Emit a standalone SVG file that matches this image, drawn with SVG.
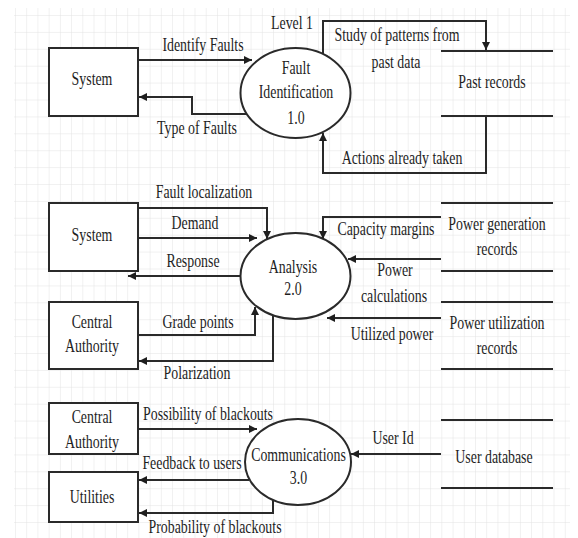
<svg xmlns="http://www.w3.org/2000/svg" width="578" height="538" viewBox="0 0 578 538">
  <defs>
    <pattern id="grid" x="15" y="15" width="11.22" height="16.9" patternUnits="userSpaceOnUse">
      <path d="M0,0 V16.9 M0,0 H11.22" fill="none" stroke="#e3e3e3" stroke-width="1"/>
    </pattern>
    <marker id="arr" viewBox="0 0 10 10" refX="10" refY="5" markerWidth="10" markerHeight="8" markerUnits="userSpaceOnUse" orient="auto">
      <path d="M0,0 L10,5 L0,10 z" fill="#1e1e1e"/>
    </marker>
    <style>
      .t { font-family: "Liberation Serif", "Times New Roman", serif; font-size: 18px; fill: #1e1e1e; text-anchor: middle; }
      .box { fill: #ffffff; stroke: #2a2a2a; stroke-width: 2; }
      .proc { fill: #ffffff; stroke: #2a2a2a; stroke-width: 2; }
      .store { stroke: #2a2a2a; stroke-width: 2.2; fill: none; }
      .flow { fill: none; stroke: #2a2a2a; stroke-width: 2; marker-end: url(#arr); }
    </style>
  </defs>

  <!-- background with drafting grid -->
  <rect x="0" y="0" width="578" height="538" fill="#ffffff"/>
  <rect x="14" y="8" width="556" height="530" fill="url(#grid)"/>

  <!-- title -->
  <text class="t" transform="translate(292,29) scale(.77 1)">Level 1</text>

  <!-- ===== Level 1: fault identification ===== -->
  <g id="system-1">
    <rect class="box" x="49" y="48" width="89" height="68"/>
    <text class="t" transform="translate(92,85) scale(.77 1)">System</text>
  </g>

  <g id="fault-identification">
    <ellipse class="proc" cx="295.5" cy="93" rx="55" ry="45"/>
    <text class="t" transform="translate(296,74) scale(.77 1)">Fault</text>
    <text class="t" transform="translate(296,98) scale(.77 1)">Identification</text>
    <text class="t" transform="translate(296,124) scale(.77 1)">1.0</text>
  </g>

  <g id="past-records">
    <line class="store" x1="441" y1="51" x2="553" y2="51"/>
    <line class="store" x1="441" y1="116" x2="553" y2="116"/>
    <text class="t" transform="translate(492,88) scale(.77 1)">Past records</text>
  </g>

  <!-- ===== Analysis ===== -->
  <g id="system-2">
    <rect class="box" x="49" y="203" width="89" height="68"/>
    <text class="t" transform="translate(92,241) scale(.77 1)">System</text>
  </g>

  <g id="central-authority-1">
    <rect class="box" x="49" y="302" width="89" height="67"/>
    <text class="t" transform="translate(92,328) scale(.77 1)">Central</text>
    <text class="t" transform="translate(92,352) scale(.77 1)">Authority</text>
  </g>

  <g id="analysis">
    <ellipse class="proc" cx="295.5" cy="276" rx="55" ry="43"/>
    <text class="t" transform="translate(293,273) scale(.77 1)">Analysis</text>
    <text class="t" transform="translate(293,295) scale(.77 1)">2.0</text>
  </g>

  <g id="power-generation-records">
    <line class="store" x1="441" y1="203" x2="553" y2="203"/>
    <line class="store" x1="441" y1="271" x2="553" y2="271"/>
    <text class="t" transform="translate(497,230) scale(.77 1)">Power generation</text>
    <text class="t" transform="translate(497,255) scale(.77 1)">records</text>
  </g>

  <g id="power-utilization-records">
    <line class="store" x1="441" y1="302" x2="553" y2="302"/>
    <line class="store" x1="441" y1="369" x2="553" y2="369"/>
    <text class="t" transform="translate(497,329) scale(.77 1)">Power utilization</text>
    <text class="t" transform="translate(497,354) scale(.77 1)">records</text>
  </g>

  <!-- ===== Communications ===== -->
  <g id="central-authority-2">
    <rect class="box" x="49" y="403" width="89" height="51"/>
    <text class="t" transform="translate(92,423) scale(.77 1)">Central</text>
    <text class="t" transform="translate(92,448) scale(.77 1)">Authority</text>
  </g>

  <g id="utilities">
    <rect class="box" x="49" y="472" width="89" height="50"/>
    <text class="t" transform="translate(92,503) scale(.77 1)">Utilities</text>
  </g>

  <g id="communications">
    <ellipse class="proc" cx="298" cy="462" rx="53" ry="43"/>
    <text class="t" transform="translate(298.5,461) scale(.77 1)">Communications</text>
    <text class="t" transform="translate(298.5,484) scale(.77 1)">3.0</text>
  </g>

  <g id="user-database">
    <line class="store" x1="441" y1="420" x2="553" y2="420"/>
    <line class="store" x1="441" y1="488" x2="553" y2="488"/>
    <text class="t" transform="translate(494,463) scale(.77 1)">User database</text>
  </g>

  <!-- ===== data flows ===== -->
  <g id="connectors">
    <!-- fault identification -->
    <path class="flow" d="M138,60 H252"/>
    <text class="t" transform="translate(203,51) scale(.77 1)">Identify Faults</text>

    <path class="flow" d="M247,114 H192 V97 H139"/>
    <text class="t" transform="translate(197,134) scale(.77 1)">Type of Faults</text>

    <path class="flow" d="M323,54 V21 H486 V50"/>
    <text class="t" transform="translate(397,41) scale(.77 1)">Study of patterns from</text>
    <text class="t" transform="translate(396,68) scale(.77 1)">past data</text>

    <path class="flow" d="M486,116 V173 H323 V133"/>
    <text class="t" transform="translate(402,164) scale(.77 1)">Actions already taken</text>

    <!-- analysis -->
    <path class="flow" d="M138,208 H267 V239"/>
    <text class="t" transform="translate(204,198) scale(.77 1)">Fault localization</text>

    <path class="flow" d="M138,238 H257"/>
    <text class="t" transform="translate(195,229) scale(.77 1)">Demand</text>

    <path class="flow" d="M240,276 H128"/>
    <text class="t" transform="translate(193,267) scale(.77 1)">Response</text>

    <path class="flow" d="M138,335 H255 V307"/>
    <text class="t" transform="translate(198,328) scale(.77 1)">Grade points</text>

    <path class="flow" d="M273,315 V361 H139"/>
    <text class="t" transform="translate(197,379) scale(.77 1)">Polarization</text>

    <path class="flow" d="M441,217 H323 V239"/>
    <text class="t" transform="translate(386,235) scale(.77 1)">Capacity margins</text>

    <path class="flow" d="M441,259 H348"/>
    <text class="t" transform="translate(395,276) scale(.77 1)">Power</text>
    <text class="t" transform="translate(394,302) scale(.77 1)">calculations</text>

    <path class="flow" d="M441,318 H327"/>
    <text class="t" transform="translate(392,340) scale(.77 1)">Utilized power</text>

    <!-- communications -->
    <path class="flow" d="M138,429 H257"/>
    <text class="t" transform="translate(208,420) scale(.77 1)">Possibility of blackouts</text>

    <path class="flow" d="M249,480 H139"/>
    <text class="t" transform="translate(192,469) scale(.77 1)">Feedback to users</text>

    <path class="flow" d="M273,500 V513 H139"/>
    <text class="t" transform="translate(215,533) scale(.77 1)">Probability of blackouts</text>

    <path class="flow" d="M441,454 H351"/>
    <text class="t" transform="translate(393,444) scale(.77 1)">User Id</text>
  </g>
</svg>
